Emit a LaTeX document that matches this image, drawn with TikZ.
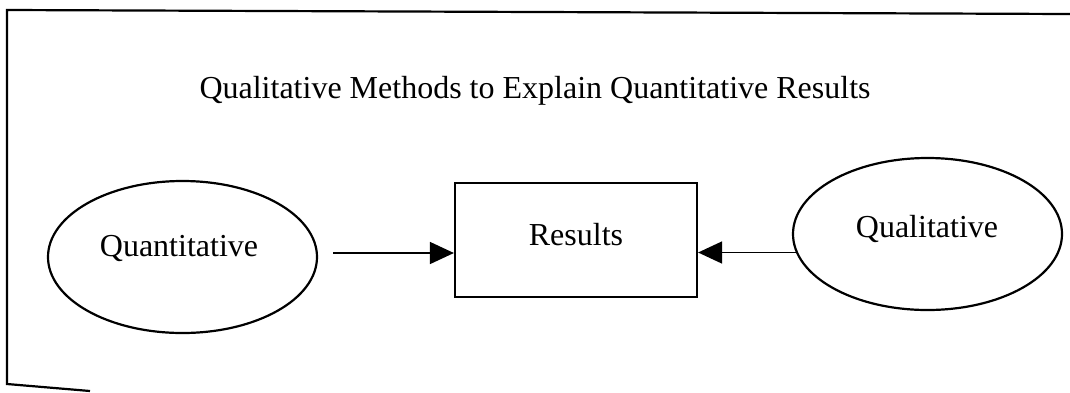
\documentclass[tikz,border=0pt]{standalone}
\usepackage{fontspec}
\setmainfont{Liberation Serif}
\usetikzlibrary{arrows.meta,shapes.geometric}
\begin{document}
\begin{tikzpicture}[x=0.5pt,y=-0.5pt,
  frame/.style={line width=1.1pt,line join=miter},
  oval/.style={draw,line width=1.1pt,ellipse,minimum width=134.5pt,minimum height=76pt,inner sep=0pt},
  resbox/.style={draw,line width=1.1pt,rectangle,minimum width=121pt,minimum height=57pt,inner sep=0pt},
  lbl/.style={anchor=base,inner sep=0pt,font=\fontsize{16}{19}\selectfont},
  arr/.style={line width=0.8pt,-{Triangle[length=12pt,width=11pt]}}]
\useasboundingbox (0,0) rectangle (1070,392);
% outer frame (cut off at right)
\draw[frame] (1070,14) -- (7,10) -- (7,384) -- (90,391);
% title
\node[lbl] (title) at (535,98) {Qualitative Methods to Explain Quantitative Results};
% shapes
\node[oval] (quant) at (182.5,257) {};
\node[lbl] (quanttxt) at (179,256) {Quantitative};
\node[resbox] (res) at (576,240) {};
\node[lbl] (restxt) at (576,245) {Results};
\node[oval] (quali) at (927.5,234) {};
\node[lbl] (qualitxt) at (927,237) {Qualitative};
% arrows
\coordinate (la) at (333,253);
\draw[arr] (la) -- (la -| res.west);
\draw[arr] (quali.188) -- (res.east |- quali.188);
\end{tikzpicture}
\end{document}
